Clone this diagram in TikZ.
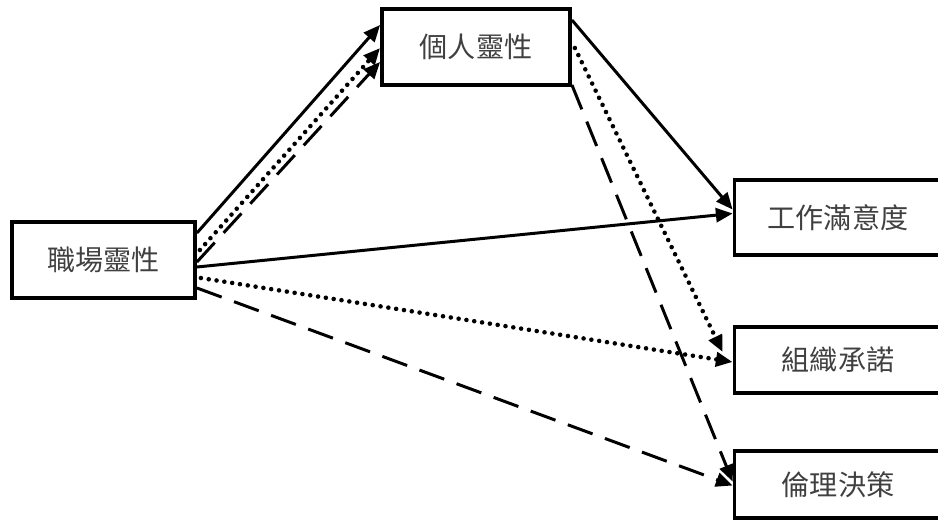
\documentclass[tikz,border=0pt]{standalone}
\usepackage{fontspec}
\newfontfamily\cjk{Noto Sans CJK TC}
\usetikzlibrary{arrows.meta,calc}
\tikzstyle{box} = [rectangle, draw, line width=2.2pt, text=black!75,
    font=\cjk\fontsize{16}{20}\selectfont, inner sep=0pt]
\tikzstyle{line} = [draw, line width=1.7pt, -{Triangle[length=9.5pt,width=8pt]}]
\tikzstyle{dotline} = [line, line width=2.6pt, line cap=round, dash pattern=on 0pt off 4.5pt]
\tikzstyle{dashline} = [line, dash pattern=on 15pt off 7.5pt]

\begin{document}
\begin{tikzpicture}[x=0.02cm, y=-0.02cm]
		\useasboundingbox (0,0) rectangle (938,521);
		\clip (0,0) rectangle (938,521);
		% Draw nodes
		\node [box, minimum width=3.66cm, minimum height=1.52cm] (workplace) at (103.5,260) {職場靈性};
		\node [box, minimum width=3.76cm, minimum height=1.52cm] (personal) at (476,47) {個人靈性};
		\node [box, minimum width=4.14cm, minimum height=1.5cm] (satisfaction) at (838,217.5) {工作滿意度};
		\node [box, minimum width=4.14cm, minimum height=1.32cm] (commitment) at (838,360) {組織承諾};
		\node [box, minimum width=4.14cm, minimum height=1.34cm] (ethics) at (838,484.5) {倫理決策};
		% Helper coordinates
		\coordinate (commitin) at ($(commitment.west)+(-10,-8)$);
		% Draw lines connecting (arrows)
		\path [line] ($(workplace.east)+(0,-27)$) -- ($(personal.west)+(0,-22)$);
		\path [dotline] ($(workplace.east)+(3,-10)$) -- ($(personal.west)+(0,1)$);
		\path [dashline] ($(workplace.east)+(0,2)$) -- ($(personal.west)+(0,15)$);
		\path [line] ($(workplace.east)+(0,7)$) -- ($(satisfaction.west)+(0,-4)$);
		\path [dotline] ($(workplace.east)+(4,18)$) -- ($(commitment.west)+(0,2)$);
		\path [dashline] ($(workplace.east)+(0,28)$) -- ($(ethics.west)+(0,1)$);
		\path [line] ($(personal.east)+(0,-27)$) -- ($(satisfaction.west)+(0,-8)$);
		\path [dotline] ($(personal.east)+(3,1)$) -- (commitin);
		\path [dashline] ($(personal.south east)+(0,-2)$) -- ($(ethics.west)+(0,-3)$);
	\end{tikzpicture}
\end{document}
